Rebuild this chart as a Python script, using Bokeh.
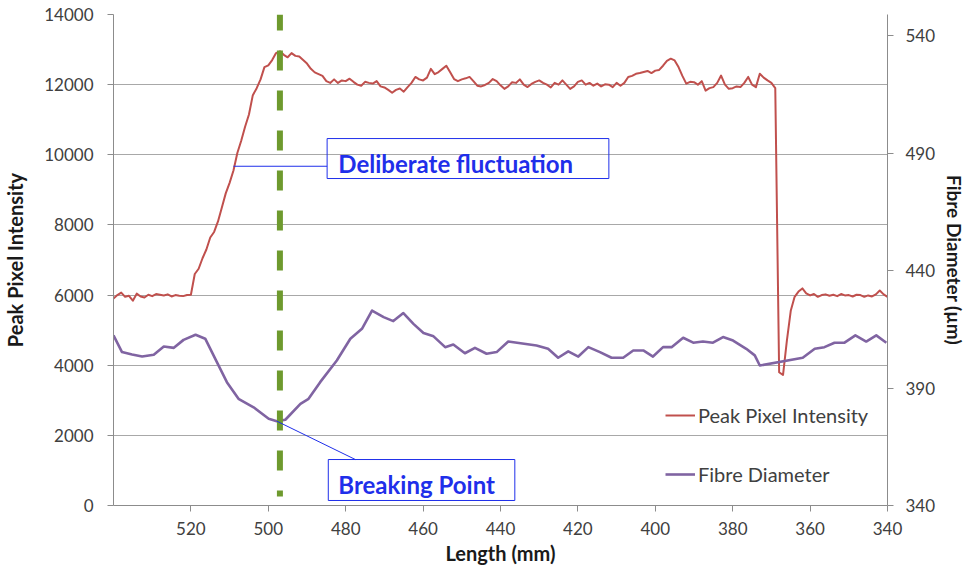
from bokeh.plotting import figure
from bokeh.models import (Range1d, LinearAxis, FixedTicker, Legend, LegendItem,
                          BoxAnnotation, Label)
from bokeh.embed import file_html
from bokeh.resources import INLINE

# ---- data -------------------------------------------------------------
# Peak pixel intensity sampled every millimetre from 540 mm down to 340 mm
length_mm = list(range(540, 339, -1))
peak_intensity = [
    5900, 6000, 6070, 5950, 5980, 5840, 6040, 5960, 5930, 6010, 5970, 6030, 6010, 5990, 6020, 5960, 6000, 5980, 5970, 6000, 6010,
    6600, 6750, 7050, 7300, 7640, 7800, 8100, 8500, 8900, 9200, 9550, 10050, 10400, 10800, 11150, 11700, 11900, 12150, 12500, 12550,
    12700, 12900, 12950, 12850, 12780, 12900, 12820, 12800, 12700, 12600, 12450, 12350, 12300, 12250, 12100, 12050, 12150, 12050, 12120, 12100,
    12170, 12080, 12000, 11970, 12080, 12050, 12030, 12100, 11950, 11920, 11850, 11770, 11850, 11890, 11800, 11930, 12050, 12220, 12150, 12120,
    12200, 12450, 12300, 12360, 12450, 12540, 12350, 12160, 12100, 12150, 12180, 12220, 12100, 11970, 11950, 11990, 12050, 12160, 12100, 11980,
    11880, 11950, 12070, 12050, 12150, 12000, 11930, 12020, 12080, 12120, 12050, 12000, 11920, 12050, 12000, 12120, 12000, 11880, 11950, 12080,
    12120, 12000, 12050, 11970, 12030, 11950, 12010, 12000, 11930, 12050, 11970, 12050, 12220, 12250, 12310, 12330, 12360, 12390, 12330, 12400,
    12420, 12540, 12680, 12740, 12690, 12500, 12250, 12030, 12080, 12070, 12000, 12100, 11830, 11900, 11930, 12050, 12260, 12000, 11880, 11900,
    11950, 11930, 12050, 12220, 12000, 11930, 12310, 12200, 12120, 12050, 11900, 3800, 3720, 4700, 5550, 5950, 6100, 6190, 6050, 5990,
    6030, 5950, 6000, 6020, 5980, 6010, 5970, 6030, 5990, 6000, 5960, 6010, 6000, 5950, 5990, 5960, 6020, 6130, 6020, 5950,
]

# Fibre diameter (µm) measurements
diameter_length = [
    540.0, 537.8, 535.2, 532.6, 529.6, 527.0, 524.4, 521.9, 518.8, 516.3, 513.7, 510.7, 507.7, 503.8,
    499.9, 497.8, 495.6, 491.7, 489.6, 486.6, 482.3, 478.8, 475.8, 473.2, 470.2, 467.7, 465.1, 462.5,
    459.9, 457.3, 454.3, 452.2, 449.2, 446.6, 443.6, 441.0, 438.0, 430.7, 427.7, 425.1, 422.5, 419.9,
    417.3, 414.3, 411.3, 408.3, 405.7, 403.1, 400.6, 398.0, 395.8, 392.8, 390.2, 387.7, 385.1, 382.5,
    379.9, 376.5, 374.3, 373.0, 361.9, 358.8, 356.3, 353.7, 351.1, 348.3, 345.5, 342.9, 340.3,
]
fibre_diameter = [
    412.4, 405.3, 404.3, 403.4, 404.2, 407.7, 407.1, 410.5, 412.7, 411.0, 402.4, 392.5, 385.4, 381.8,
    376.9, 375.9, 376.5, 383.3, 385.4, 392.5, 401.7, 411.0, 415.2, 423.0, 420.2, 418.5, 421.9, 417.3,
    413.4, 412.0, 407.4, 408.5, 404.8, 407.1, 404.6, 405.3, 409.8, 408.1, 406.7, 402.9, 405.6, 403.4,
    407.4, 405.3, 402.9, 402.9, 406.0, 406.0, 403.4, 407.4, 407.4, 411.4, 409.3, 409.8, 409.3, 411.7,
    410.2, 406.7, 403.9, 399.6, 402.9, 406.7, 407.4, 409.3, 409.3, 412.4, 409.8, 412.4, 409.3,
]

length_ticks = [520, 500, 480, 460, 440, 420, 400, 380, 360, 340]
intensity_ticks = [0, 2000, 4000, 6000, 8000, 10000, 12000, 14000]
diameter_ticks = [340, 390, 440, 490, 540]

break_length = 497
INT_MAX = 14000
DIA_MIN, DIA_MAX = 340, 549

RED = "#C0504D"
PURPLE = "#8064A2"
GREEN = "#6E9A2E"
BLUE = "#1F2FEA"
GRID = "#A8A8A8"
AXIS = "#8C8C8C"
FONT = "Lato"

p = figure(width=970, height=568, output_backend="svg", toolbar_location=None,
           x_range=Range1d(540, 340), y_range=Range1d(0, INT_MAX),
           min_border_left=113, min_border_right=83, min_border_top=14,
           min_border_bottom=63)
p.outline_line_color = None
p.extra_y_ranges = {"dia": Range1d(DIA_MIN, DIA_MAX)}

red = p.line(length_mm, peak_intensity, line_color=RED, line_width=2, line_join="round")
purple = p.line(diameter_length, fibre_diameter, line_color=PURPLE, line_width=2.6,
                line_join="round", y_range_name="dia")

# dashed marker at the breaking position
p.line([break_length, break_length], [INT_MAX, 260], line_color=GREEN, line_width=6,
       line_dash="20 20", line_dash_offset=4)

# axes
p.xaxis.ticker = FixedTicker(ticks=length_ticks)
p.yaxis.ticker = FixedTicker(ticks=intensity_ticks)
p.xaxis.axis_label = "Length (mm)"
p.yaxis.axis_label = "Peak Pixel Intensity"
right_axis = LinearAxis(y_range_name="dia", ticker=FixedTicker(ticks=diameter_ticks),
                        axis_label="Fibre Diameter (µm)")
p.add_layout(right_axis, "right")

for ax in (p.xaxis[0], p.yaxis[0], right_axis):
    ax.axis_line_color = AXIS
    ax.major_tick_line_color = AXIS
    ax.minor_tick_line_color = None
    ax.major_tick_in = 0
    ax.major_tick_out = 6
    ax.major_label_text_font = FONT
    ax.major_label_text_font_size = "17px"
    ax.major_label_text_color = "#404040"
    ax.axis_label_text_font = FONT
    ax.axis_label_text_font_style = "bold"
    ax.axis_label_text_font_size = "20px"
    ax.axis_label_text_color = "#1a1a1a"
p.yaxis.major_label_standoff = 14
p.yaxis.axis_label_standoff = 14
right_axis.major_label_standoff = 12
right_axis.axis_label_standoff = 5
right_axis.axis_label_text_font_size = "19px"
p.xaxis.major_label_standoff = 10
p.xaxis.axis_label_standoff = 3

p.xgrid.visible = False
p.ygrid.grid_line_color = GRID
p.ygrid.grid_line_width = 1

# callouts
def to_left(d):
    return (d - DIA_MIN) / (DIA_MAX - DIA_MIN) * INT_MAX

p.line([509, 484.8], [9673, 9673], line_color=BLUE, line_width=1)
p.add_layout(BoxAnnotation(left=484.8, right=412.0, top=10463, bottom=9323,
                           fill_alpha=0, line_color=BLUE, line_alpha=1, line_width=1))
p.add_layout(Label(x=481.9, y=9765, text="Deliberate fluctuation", text_font=FONT,
                   text_font_style="bold", text_font_size="24px", text_color=BLUE,
                   text_baseline="middle", text_align="left"))

i_min = fibre_diameter.index(min(fibre_diameter))
p.line([diameter_length[i_min], 477.5], [to_left(fibre_diameter[i_min]), 1311],
       line_color=BLUE, line_width=1)
p.add_layout(BoxAnnotation(left=484.5, right=436.3, top=1311, bottom=143,
                           fill_alpha=0, line_color=BLUE, line_alpha=1, line_width=1))
p.add_layout(Label(x=481.9, y=599, text="Breaking Point", text_font=FONT,
                   text_font_style="bold", text_font_size="24px", text_color=BLUE,
                   text_baseline="middle", text_align="left"))

legend = Legend(items=[LegendItem(label="Peak Pixel Intensity", renderers=[red]),
                       LegendItem(label="Fibre Diameter", renderers=[purple])],
                location=(552, 19), background_fill_alpha=0, border_line_color=None,
                glyph_width=30, glyph_height=24, label_height=24, spacing=35,
                label_standoff=3, padding=10, label_text_font=FONT,
                label_text_font_size="20px", label_text_color="#404040")
p.add_layout(legend)

open("out.html", "w").write(file_html(p, INLINE))
